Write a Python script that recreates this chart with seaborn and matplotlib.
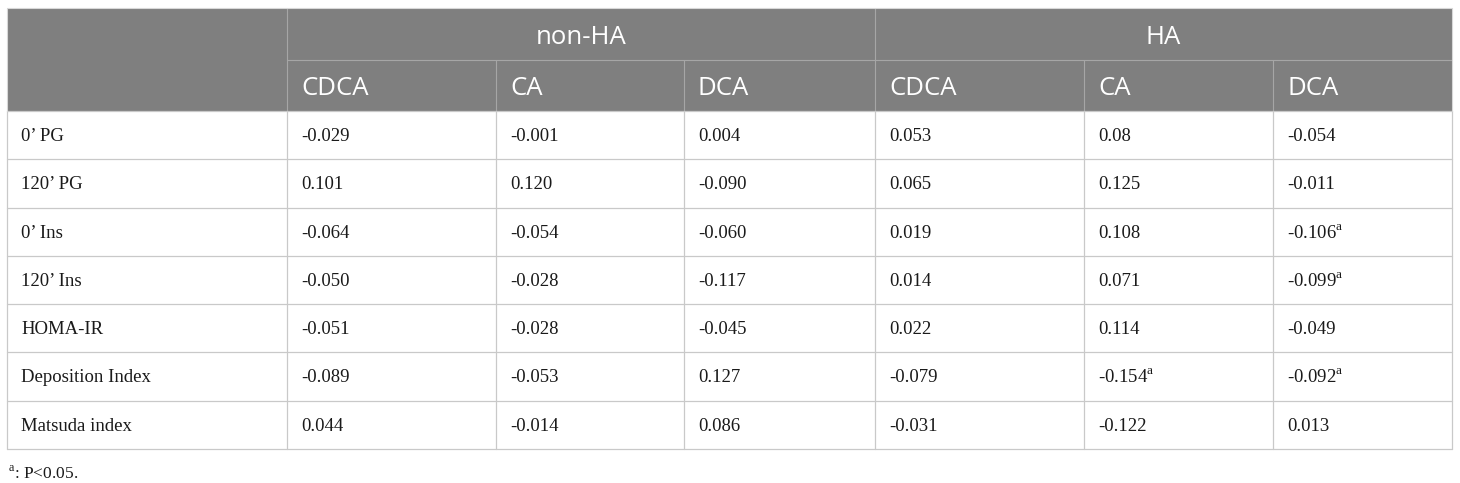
import matplotlib
matplotlib.use("Agg")
import matplotlib.pyplot as plt
import seaborn as sns

# table content
row_labels = ["0’ PG", "120’ PG", "0’ Ins", "120’ Ins", "HOMA-IR",
              "Deposition Index", "Matsuda index"]
groups = ["non-HA", "HA"]
acids = ["CDCA", "CA", "DCA"]

non_ha_cdca = ["-0.029", "0.101", "-0.064", "-0.050", "-0.051", "-0.089", "0.044"]
non_ha_ca = ["-0.001", "0.120", "-0.054", "-0.028", "-0.028", "-0.053", "-0.014"]
non_ha_dca = ["0.004", "-0.090", "-0.060", "-0.117", "-0.045", "0.127", "0.086"]
ha_cdca = ["0.053", "0.065", "0.019", "0.014", "0.022", "-0.079", "-0.031"]
ha_ca = ["0.08", "0.125", "0.108", "0.071", "0.114", "-0.154", "-0.122"]
ha_dca = ["-0.054", "-0.011", "-0.106", "-0.099", "-0.049", "-0.092", "0.013"]

# (row, value column) cells marked with superscript a
significant = [(2, 5), (3, 5), (5, 4), (5, 5)]
footnote = ": P<0.05."

columns = [non_ha_cdca, non_ha_ca, non_ha_dca, ha_cdca, ha_ca, ha_dca]

# layout in pixels
col_edges = [7, 287, 496, 684, 875, 1084, 1273, 1452]
head_edges = [8, 60, 111]
row_step = (449 - 111) / len(row_labels)
pad = 14

sns.set_theme(style="white")
plt.rcParams["mathtext.fontset"] = "custom"
plt.rcParams["mathtext.rm"] = "Liberation Serif"
serif = ["Liberation Serif", "DejaVu Serif"]
sans = ["Open Sans", "DejaVu Sans"]

fig = plt.figure(figsize=(14.6, 4.83), dpi=100)
ax = fig.add_axes([0, 0, 1, 1])
ax.set_xlim(0, 1460)
ax.set_ylim(483, 0)
ax.axis("off")

head_bg = "#7f7f7f"
head_line = "#a6a6a6"
grid = "#c9c9c9"
ink = "#1a1a1a"

# header background
ax.add_patch(plt.Rectangle((col_edges[0], head_edges[0]),
                           col_edges[-1] - col_edges[0],
                           head_edges[2] - head_edges[0],
                           facecolor=head_bg, edgecolor="none", zorder=1))
# header separators
ax.plot([col_edges[1], col_edges[-1]], [head_edges[1]] * 2, color=head_line, lw=0.8, zorder=2)
for x in (col_edges[1], col_edges[4]):
    ax.plot([x, x], [head_edges[0], head_edges[2]], color=head_line, lw=0.8, zorder=2)
for x in (col_edges[2], col_edges[3], col_edges[5], col_edges[6]):
    ax.plot([x, x], [head_edges[1], head_edges[2]], color=head_line, lw=0.8, zorder=2)

# group headers
for g, name in enumerate(groups):
    x0, x1 = col_edges[1 + 3 * g], col_edges[4 + 3 * g]
    ax.text((x0 + x1) / 2, (head_edges[0] + head_edges[1]) / 2 + 3, name,
            color="white", fontsize=18.5, family=sans, ha="center", va="center")
    for a, acid in enumerate(acids):
        ax.text(col_edges[1 + 3 * g + a] + pad, (head_edges[1] + head_edges[2]) / 2 + 3,
                acid, color="white", fontsize=18.5, family=sans, ha="left", va="center")

# body grid
body_top = head_edges[2]
body_bottom = body_top + row_step * len(row_labels)
for i in range(len(row_labels) + 1):
    y = body_top + i * row_step
    ax.plot([col_edges[0], col_edges[-1]], [y, y], color=grid, lw=0.9, zorder=2)
for x in col_edges:
    ax.plot([x, x], [body_top, body_bottom], color=grid, lw=0.9, zorder=2)
ax.plot([col_edges[0], col_edges[-1]], [head_edges[0] - 0.5] * 2, color="#d8d8d8", lw=0.8)
for x in (col_edges[0], col_edges[-1]):
    ax.plot([x, x], [head_edges[0], head_edges[2]], color="#d8d8d8", lw=0.8)

# body text, all on a shared baseline per row
for r, label in enumerate(row_labels):
    base = body_top + r * row_step + 30
    ax.text(col_edges[0] + pad, base, label, fontsize=13.5, family=serif,
            ha="left", va="baseline", color=ink)
    for c, col in enumerate(columns):
        value = col[r]
        if (r, c) in significant:
            value = value + r"$^{\mathrm{a}}$"
        ax.text(col_edges[c + 1] + pad, base, value, fontsize=13.5, family=serif,
                ha="left", va="baseline", color=ink)

# footnote
ax.text(8, 479, r"$^{\mathrm{a}}$" + footnote, fontsize=12.5, family=serif,
        ha="left", va="baseline", color=ink)

fig.savefig("out.png", dpi=100)
